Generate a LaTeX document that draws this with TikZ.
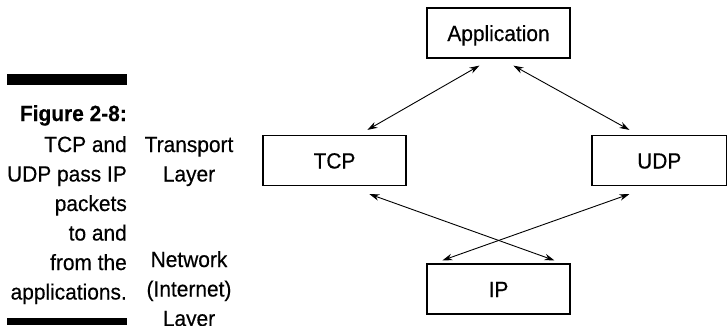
\documentclass[tikz,border=0pt]{standalone}
\usepackage{fontspec}
\setmainfont{Liberation Sans}[FakeStretch=0.95, FakeBold=0.4]
\usetikzlibrary{arrows.meta}
\begin{document}
\begin{tikzpicture}[x=1pt,y=1pt,
  box/.style={draw, line width=1.2pt, minimum width=143pt, minimum height=50pt,
    inner sep=0pt, text height=16pt, text depth=0pt, font=\fontsize{22}{25}\selectfont},
  link/.style={line width=0.9pt, {Stealth[length=10pt,width=6.5pt]}-{Stealth[length=10pt,width=6.5pt]}},
  lbl/.style={font=\fontsize{22}{29.5}\selectfont, inner sep=0pt},
  bar/.style={fill=black, draw=none}]
\useasboundingbox (0,0) rectangle (727,325);
% boxes
\node[box] (app) at (498.5,292) {Application};
\node[box] (tcp) at (334.5,164.5) {TCP};
\node[box, minimum width=134.5pt] (udp) at (659.25,164.5) {UDP};
\node[box] (ip) at (498.5,36) {IP};
% connectors
\draw[link] ([shift={(53,-7)}]app.south west) -- ([shift={(105,5)}]tcp.north west);
\draw[link] ([shift={(87,-7)}]app.south west) -- ([shift={(38,5)}]udp.north west);
\draw[link] ([shift={(107,-8)}]tcp.south west) -- ([shift={(128,3)}]ip.north west);
\draw[link] ([shift={(38,-8)}]udp.south west) -- ([shift={(16,3)}]ip.north west);
% caption
\fill[bar] (7,240) rectangle (127,251);
\fill[bar] (7,0) rectangle (127,7);
\node[lbl, align=right, anchor=base east] (cap) at (127,25.5)
  {\textbf{Figure 2-8:}\\[1.5pt]TCP and\\UDP pass IP\\packets\\to and\\from the\\applications.};
\node[lbl, align=center, anchor=base] (tl) at (189,143.5) {Transport\\Layer};
\node[lbl, align=center, anchor=base] (nl) at (189,-1) {Network\\(Internet)\\Layer};
\end{tikzpicture}
\end{document}
